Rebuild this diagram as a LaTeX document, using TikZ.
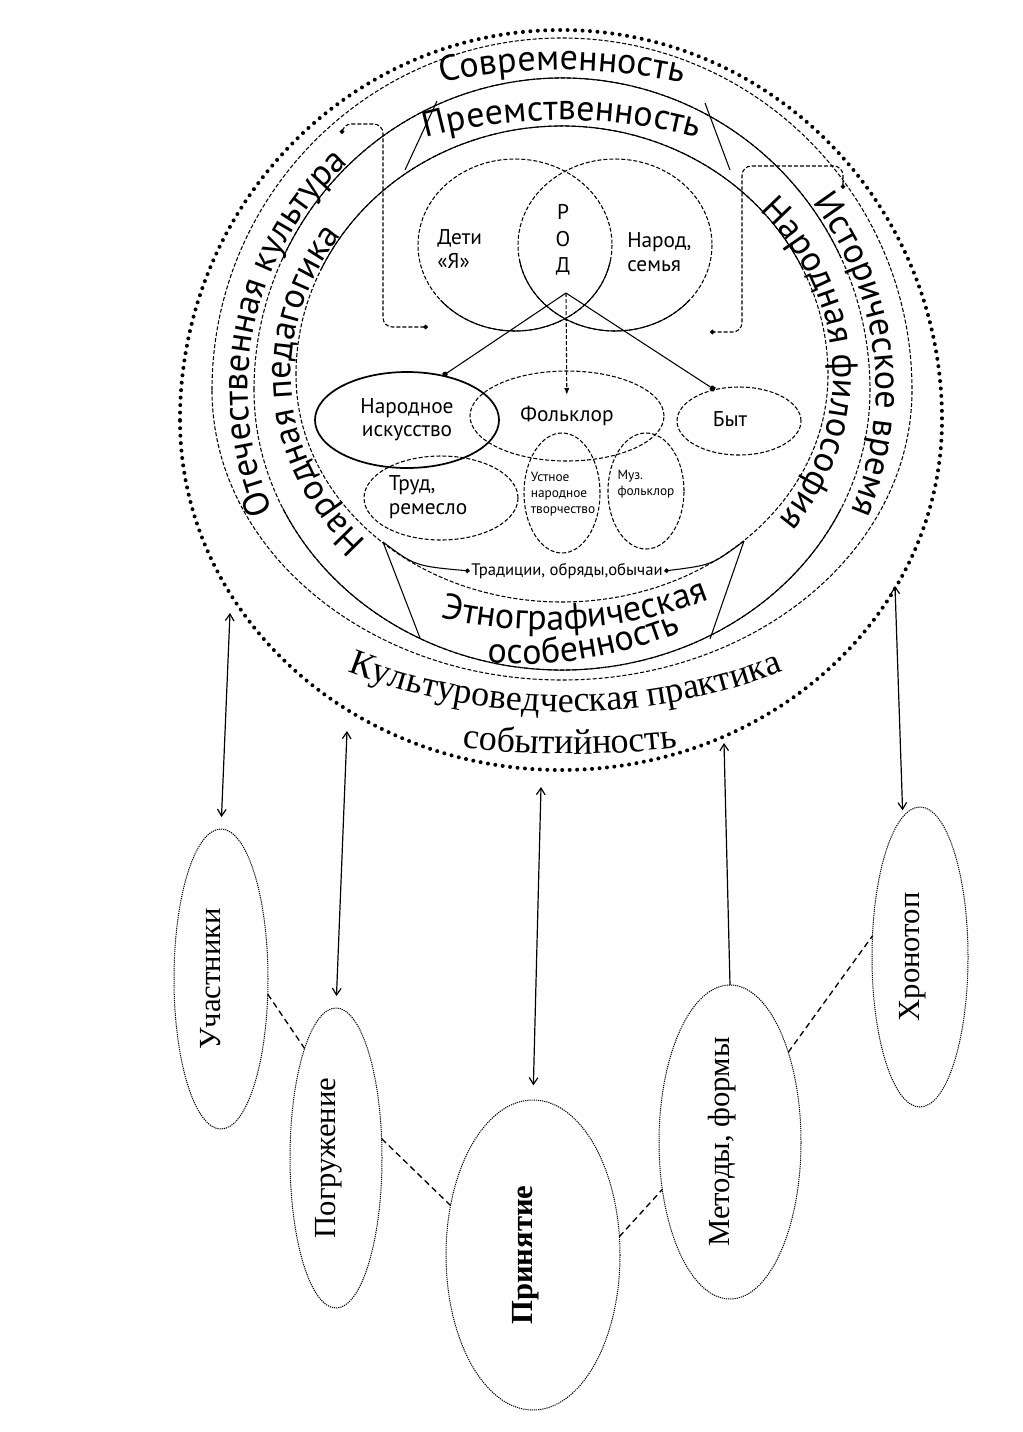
\documentclass[tikz,border=0pt]{standalone}
\usepackage{fontspec}
\setmainfont{Liberation Serif}
\newfontfamily\ptsans{PT Sans}
\usetikzlibrary{arrows.meta,shapes.geometric,decorations.text,calc}
\newcommand{\ringfont}{\ptsans\fontsize{27pt}{32pt}\selectfont}
\newcommand{\innerfont}{\ptsans\fontsize{16pt}{17.5pt}\selectfont}
\newcommand{\tinyfnt}{\ptsans\fontsize{10pt}{12pt}\selectfont}
\newcommand{\tradfont}{\ptsans\fontsize{12.5pt}{14pt}\selectfont}
\newcommand{\serifbig}{\rmfamily\fontsize{27pt}{32pt}\selectfont}
\newcommand{\ovalfont}{\rmfamily\fontsize{23pt}{27pt}\selectfont}
\newcommand{\ovaltext}[1]{\rotatebox{90}{\raisebox{16pt}{#1}}}
\begin{document}
\begin{tikzpicture}[x=0.75pt,y=-0.75pt,
  solidline/.style={line width=0.8pt},
  dashline/.style={line width=0.8pt, dash pattern=on 3pt off 1.5pt},
  bigdots/.style={line width=3pt, line cap=round, dash pattern=on 0pt off 5.6pt},
  finedots/.style={line width=0.75pt, dash pattern=on 0.9pt off 0.7pt},
  dashconn/.style={line width=1pt, dash pattern=on 4.5pt off 3pt},
  arrowline/.style={line width=0.9pt},
  oval/.style={ellipse, inner sep=0pt, outer sep=0pt},
  innertxt/.style={font=\innerfont, inner sep=0pt},
  ringtext/.style={decorate, decoration={text along path, text={|\ringfont|#1}, text align=center}},
  sereftext/.style={decorate, decoration={text along path, text={|\serifbig|#1}, text align=center}},
  barb/.style={arrowline, {Straight Barb[length=5pt,width=6.5pt]}-{Straight Barb[length=5pt,width=6.5pt]}}
]
\useasboundingbox (0,0) rectangle (1022,1432);
\fill[white] (0,0) rectangle (1022,1432);

% outer dotted circle
\draw[bigdots] (180,420) arc[start angle=180,end angle=360,x radius=381,y radius=390]
  arc[start angle=0,end angle=180,x radius=381,y radius=350];

% C1
\draw[dashline] (212,390) arc[start angle=180,end angle=360,x radius=350,y radius=352]
  arc[start angle=0,end angle=180,x radius=350,y radius=290];

% C2
\draw[dashline] (254,390) arc[start angle=180,end angle=360,x radius=308,y radius=312]
  arc[start angle=0,end angle=180,x radius=308,y radius=280];
\draw[solidline] ([shift={(562,390)}]205:308 and 312) arc[start angle=205,end angle=335,x radius=308,y radius=312];
\draw[solidline] ([shift={(562,390)}]25:308 and 280) arc[start angle=25,end angle=155,x radius=308,y radius=280];

% C3
\draw[dashline] (296,375) arc[start angle=180,end angle=360,x radius=266,y radius=249]
  arc[start angle=0,end angle=180,x radius=266,y radius=227];
\draw[solidline] ([shift={(562,375)}]205:266 and 249) arc[start angle=205,end angle=335,x radius=266,y radius=249];

% top trapezoid
\coordinate (tlA) at (437,101); \coordinate (tlB) at (405,170);
\coordinate (trA) at (705,103); \coordinate (trB) at (730,170);
\draw[solidline] (tlA) -- (tlB);
\draw[solidline] (trA) -- (trB);

% bottom trapezoid
\coordinate (blA) at (383,542); \coordinate (blB) at (420,638);
\coordinate (brA) at (744,541); \coordinate (brB) at (710,639);
\draw[solidline] (blA) -- (blB);
\draw[solidline] (brA) -- (brB);

% ring texts
\path[ringtext=Современность] ([shift={(562,630)}]243:560) arc[start angle=243,end angle=297,radius=560];
\path[ringtext=Преемственность] ([shift={(562,640)}]246:520) arc[start angle=246,end angle=294,radius=520];
\path[ringtext=Отечественная культура] ([shift={(562,390)}]140:314 and 310) arc[start angle=140,end angle=244,x radius=314,y radius=310];
\path[ringtext=Народная педагогика] ([shift={(562,375)}]124:271 and 240) arc[start angle=124,end angle=228,x radius=271,y radius=240];
\path[ringtext=Историческое время] ([shift={(562,390)}]-59:314 and 310) arc[start angle=-59,end angle=45,x radius=314,y radius=310];
\path[ringtext=Народная философия] ([shift={(562,375)}]-55:271 and 240) arc[start angle=-55,end angle=49,x radius=271,y radius=240];
\path[ringtext=Этнографическая] ([shift={(545,180)}]116:450) arc[start angle=116,end angle=56,radius=450];
\path[ringtext=особенность] ([shift={(520,244)}]111:420) arc[start angle=111,end angle=51,radius=420];
\path[sereftext=Культуроведческая практика] ([shift={(565,112)}]125:600) arc[start angle=125,end angle=55,radius=600];
\path[sereftext=событийность] ([shift={(570,-146)}]100:900) arc[start angle=100,end angle=80,radius=900];

% Venn circles
\draw[dashline] (515,245) ellipse[x radius=97,y radius=86];
\draw[dashline] (615,245) ellipse[x radius=97,y radius=86];
\draw[solidline] ([shift={(515,245)}]10:97 and 86) arc[start angle=10,end angle=140,x radius=97,y radius=86];
\draw[solidline] ([shift={(615,245)}]40:97 and 86) arc[start angle=40,end angle=170,x radius=97,y radius=86];

\node[innertxt, align=left, anchor=west] (deti) at (437,249) {Дети\\«Я»};
\node[innertxt, align=left, anchor=west] (narod) at (627,252) {Народ,\\семья};
\node[font=\ptsans\fontsize{16pt}{20pt}\selectfont, align=center, inner sep=0pt] (rod) at (563,240) {Р\\О\\Д};

% inner ellipses
\node[oval, draw, line width=1.3pt, minimum width=138pt, minimum height=72pt, font=\innerfont, align=center] (ni) at (407,420) {Народное\\искусство};
\node[oval, draw, dashline, minimum width=145.5pt, minimum height=67.5pt, font=\innerfont] (folk) at (567,416) {Фольклор};
\node[oval, draw, dashline, minimum width=93pt, minimum height=51pt] (byt) at (739,421) {};
\node[innertxt] (bytt) at (730,419) {Быт};
\node[oval, draw, dashline, minimum width=115.5pt, minimum height=63pt] (trud) at (441,498) {};
\node[innertxt, align=left] (trudt) at (428,497) {Труд,\\ремесло};
\node[oval, draw, dashline, minimum width=57pt, minimum height=90pt] (ustn) at (562,493) {};
\node[font=\tinyfnt, align=left, inner sep=0pt] (ustnt) at (563,494) {Устное\\народное\\творчество};
\node[oval, draw, dashline, minimum width=57pt, minimum height=87pt] (muz) at (646,491) {};
\node[font=\tinyfnt, align=left, inner sep=0pt] (muzt) at (646,484) {Муз.\\фольклор};

% apex connections
\coordinate (apex) at (566,293);
\draw[solidline, -{Circle[length=4pt]}] (apex) -- (ni.51);
\draw[solidline, -{Square[length=3.5pt]}] (apex) -- (byt.128);
\draw[dashline, -{Latex[length=5pt,width=4pt]}, shorten >=16pt] (apex) -- (folk.center);

% brackets
\coordinate (lbA) at (342,134); \coordinate (lbB) at (428,327);
\draw[dashline, rounded corners=7pt, {Circle[length=3.5pt]}-{Circle[length=3.5pt]}] (lbA) -- (342,124) -- (383,124) -- (383,327) -- (lbB);
\coordinate (rbA) at (843,189); \coordinate (rbB) at (710,332);
\draw[dashline, rounded corners=7pt, {Circle[length=3.5pt]}-{Circle[length=3.5pt]}] (rbA) -- (843,166) -- (742,166) -- (742,332) -- (rbB);

% traditions
\node[font=\tradfont, inner sep=1pt] (trad) at (567,571) {Традиции, обряды,обычаи};
\draw[solidline, -{Circle[length=3.5pt]}] (blA) .. controls (415,566) .. (trad.west);
\draw[solidline, -{Circle[length=3.5pt]}] (brA) .. controls (712,565) .. (trad.east);

% bottom ovals
\node[oval, draw, finedots, minimum width=70.5pt, minimum height=225pt, font=\ovalfont] (uch) at (221,979) {\ovaltext{Участники}};
\node[oval, draw, finedots, minimum width=69pt, minimum height=225pt, font=\ovalfont] (pog) at (336,1158) {\ovaltext{Погружение}};
\node[oval, draw, finedots, minimum width=130.5pt, minimum height=232.5pt, font=\ovalfont\bfseries] (pri) at (533,1255) {\ovaltext{Принятие}};
\node[oval, draw, finedots, minimum width=106.5pt, minimum height=235.5pt, font=\ovalfont] (met) at (730,1142) {\ovaltext{Методы, формы}};
\node[oval, draw, finedots, minimum width=72pt, minimum height=225pt, font=\ovalfont] (chr) at (920,957) {\ovaltext{Хронотоп}};

% arrows from outer circle
\coordinate (o1) at (230,613);
\coordinate (o2) at (347,731);
\coordinate (o3) at (541,787);
\coordinate (o4) at (724,743);
\coordinate (o5) at (895,586);
\draw[barb, shorten >=9pt] (o1) -- (uch.north);
\draw[barb, shorten >=9pt] (o2) -- (pog.north);
\draw[barb, shorten >=11pt] (o3) -- (pri.north);
\draw[arrowline, -{Straight Barb[length=5pt,width=6.5pt]}] (met.north) -- (o4);
\draw[barb, shorten >=5pt] (o5) -- (chr.97);

% dashed links between ovals
\draw[dashconn] (uch.-18.8) -- (pog.106);
\draw[dashconn] (pog.23) -- (pri.149);
\draw[dashconn] (pri.12) -- (met.-145.4);
\draw[dashconn] (met.57) -- (chr.156);
\end{tikzpicture}
\end{document}
